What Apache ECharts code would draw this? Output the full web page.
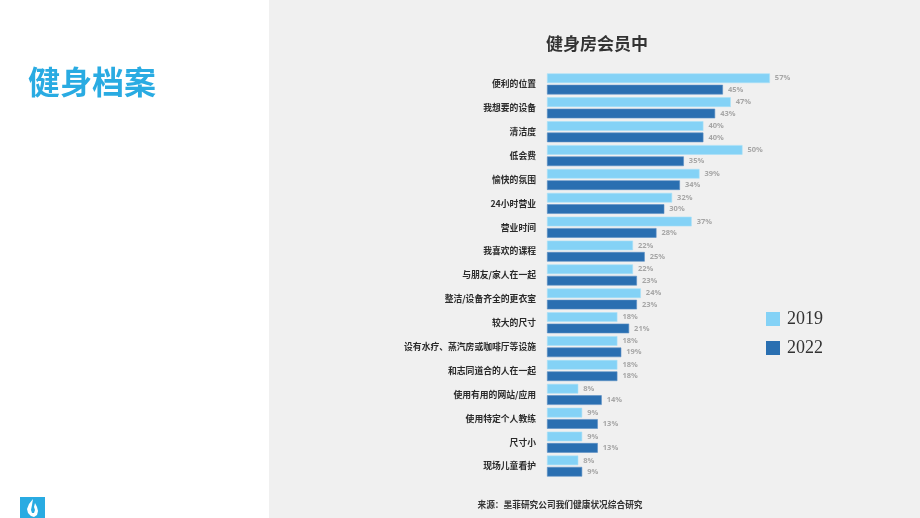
<!DOCTYPE html>
<html>
<head>
<meta charset="utf-8">
<script src="https://cdn.jsdelivr.net/npm/echarts@6/dist/echarts.min.js"></script>
<style>
  html, body { margin: 0; padding: 0; background: #ffffff; }
  #chart { width: 920px; height: 518px; }
</style>
</head>
<body>
<div id="chart"></div>
<script>
var categories = ['便利的位置', '我想要的设备', '清洁度', '低会费', '愉快的氛围', '24小时营业', '营业时间',
  '我喜欢的课程', '与朋友/家人在一起', '整洁/设备齐全的更衣室', '较大的尺寸', '设有水疗、蒸汽房或咖啡厅等设施',
  '和志同道合的人在一起', '使用有用的网站/应用', '使用特定个人教练', '尺寸小', '现场儿童看护'];
var values2019 = [57, 47, 40, 50, 39, 32, 37, 22, 22, 24, 18, 18, 18, 8, 9, 9, 8];
var values2022 = [45, 43, 40, 35, 34, 30, 28, 25, 23, 23, 21, 19, 18, 14, 13, 13, 9];

var chart = echarts.init(document.getElementById('chart'));

var font = '"Noto Sans CJK SC", "Noto Sans", sans-serif';

var valueLabel = {
  show: true,
  position: 'right',
  distance: 5,
  formatter: '{c}%',
  color: '#a6a6a6',
  fontSize: 7.5,
  fontWeight: 'bold',
  fontFamily: '"Open Sans", "Noto Sans", sans-serif'
};

var option = {
  backgroundColor: '#ffffff',
  animation: false,
  graphic: [
    // 右侧灰色面板
    { type: 'rect', x: 269, y: 0, shape: { width: 651, height: 518 }, style: { fill: '#f0f0f0' }, z: -10 },
    {
      type: 'text', x: 28, y: 66,
      style: { text: '健身档案', fill: '#29abe2', font: 'bold 32px ' + font }
    },
    {
      type: 'text', x: 560, y: 505,
      style: {
        text: '来源：墨菲研究公司我们健康状况综合研究', fill: '#333333',
        font: 'bold 8.7px ' + font, align: 'center', verticalAlign: 'middle'
      }
    },
    // 左下角标志
    { type: 'rect', x: 20, y: 497, shape: { width: 25, height: 25 }, style: { fill: '#29abe2' } },
    {
      type: 'polygon', x: 27, y: 499,
      shape: { points: [[6, 0], [2, 5], [0, 10], [1, 14], [4, 17], [7, 18], [10, 16], [11, 12], [10, 8], [8, 4], [7, 8], [8, 11], [7, 14], [5, 14], [4, 11], [5, 6]] },
      style: { fill: '#ffffff' }
    }
  ],
  title: {
    text: '健身房会员中',
    left: 541,
    top: 30,
    textStyle: { color: '#333333', fontSize: 17, fontWeight: 'bold', fontFamily: font }
  },
  legend: {
    orient: 'vertical',
    left: 761,
    top: 305,
    icon: 'rect',
    itemWidth: 14,
    itemHeight: 14,
    itemGap: 11,
    itemStyle: { borderWidth: 0 },
    data: ['2019', '2022'],
    textStyle: { color: '#333333', fontSize: 18, fontFamily: '"Liberation Serif", "DejaVu Serif", serif', padding: [0, 0, 0, 2] }
  },
  grid: {
    left: 547,
    top: 72,
    width: 234.6,
    height: 406,
    containLabel: false
  },
  xAxis: {
    type: 'value',
    min: 0,
    max: 60,
    show: false
  },
  yAxis: {
    type: 'category',
    inverse: true,
    data: categories,
    axisLine: { show: false },
    axisTick: { show: false },
    axisLabel: {
      margin: 11,
      color: '#2b2b2b',
      fontSize: 8.8,
      fontWeight: 'bold',
      fontFamily: font
    }
  },
  series: [
    {
      name: '2019',
      type: 'bar',
      data: values2019,
      barGap: '18%',
      barCategoryGap: '12%',
      itemStyle: { color: '#84d2f6', borderColor: '#a8e0f9', borderWidth: 0.6 },
      label: valueLabel
    },
    {
      name: '2022',
      type: 'bar',
      data: values2022,
      itemStyle: { color: '#2a6fb1', borderColor: '#5b8fc4', borderWidth: 0.6 },
      label: valueLabel
    }
  ]
};

chart.setOption(option);
</script>
</body>
</html>
